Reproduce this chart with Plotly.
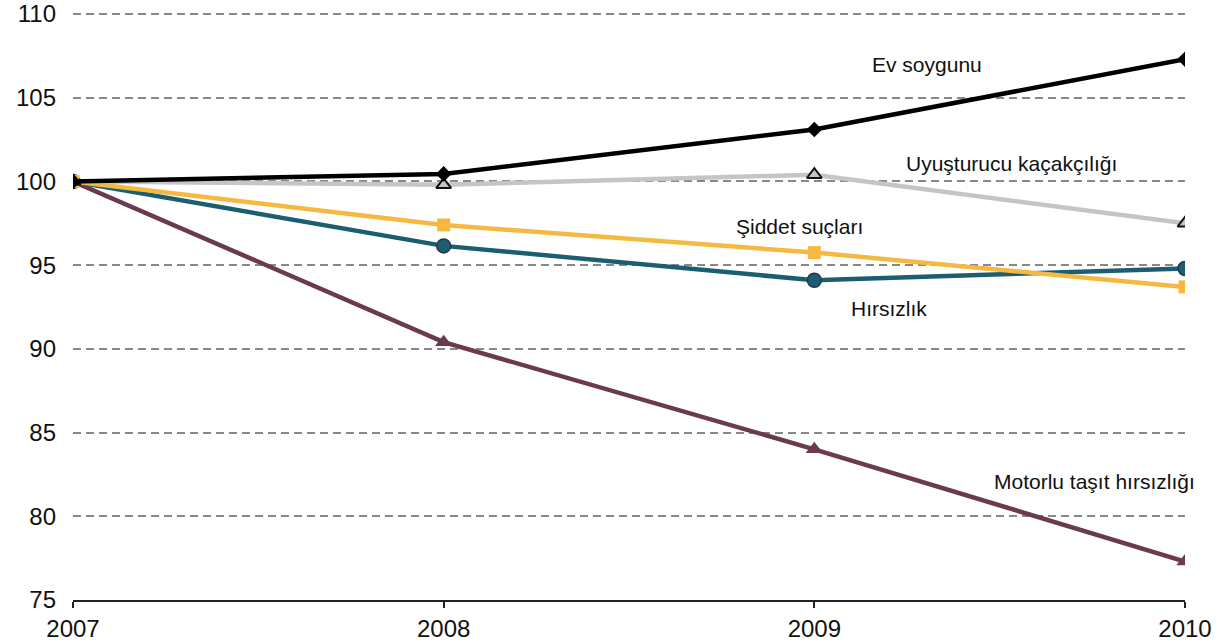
import plotly.graph_objects as go

years = [2007, 2008, 2009, 2010]
ev_soygunu = [100, 100.45, 103.1, 107.3]
uyusturucu = [100, 99.8, 100.4, 97.5]
siddet = [100, 97.4, 95.75, 93.7]
hirsizlik = [100, 96.15, 94.1, 94.8]
motorlu = [100, 90.4, 84.0, 77.3]
y_ticks = [75, 80, 85, 90, 95, 100, 105, 110]

labels = ["Ev soygunu", "Uyuşturucu kaçakçılığı", "Şiddet suçları", "Hırsızlık", "Motorlu taşıt hırsızlığı"]
label_pos = [(2009.304, 107.0), (2009.533, 101.1), (2008.961, 97.28), (2009.201, 92.44), (2009.757, 82.1)]

fig = go.Figure()
fig.add_trace(go.Scatter(x=years, y=motorlu, mode="lines+markers",
                         line=dict(color="#6b3a4e", width=4.5),
                         marker=dict(symbol="triangle-up", size=15, color="#6b3a4e")))
fig.add_trace(go.Scatter(x=years, y=hirsizlik, mode="lines+markers",
                         line=dict(color="#1b5e72", width=4.5),
                         marker=dict(symbol="circle", size=14, color="#1b5e72",
                                     line=dict(color="#2a3550", width=1.5))))
fig.add_trace(go.Scatter(x=years, y=siddet, mode="lines+markers",
                         line=dict(color="#f5b942", width=4.5),
                         marker=dict(symbol="square", size=13, color="#f5b942")))
fig.add_trace(go.Scatter(x=years, y=uyusturucu, mode="lines+markers",
                         line=dict(color="#c8c3c7", width=4.5),
                         marker=dict(symbol="triangle-up", size=13, color="#c8c3c7",
                                     line=dict(color="#111111", width=2))))
fig.add_trace(go.Scatter(x=years, y=ev_soygunu, mode="lines+markers",
                         line=dict(color="#000000", width=4.5),
                         marker=dict(symbol="diamond", size=12, color="#000000")))

for t, (x, y) in zip(labels, label_pos):
    fig.add_annotation(x=x, y=y, text=t, showarrow=False,
                       font=dict(family="Liberation Sans, Arial", size=21, color="#111111"))

fig.update_layout(
    width=1223, height=642,
    margin=dict(l=73, r=38, t=12, b=42, autoexpand=False),
    plot_bgcolor="white", paper_bgcolor="white",
    showlegend=False,
    font=dict(family="Liberation Sans, Arial", size=24, color="#111111"),
)
fig.update_xaxes(range=[2007, 2010], tickvals=years, ticktext=[str(y) for y in years],
                 showgrid=False, zeroline=False, showline=True, linecolor="#222222", linewidth=2,
                 ticks="outside", ticklen=6, tickwidth=2, tickcolor="#222222",
                 tickfont=dict(size=24), ticklabelstandoff=0, automargin=False)
fig.update_yaxes(range=[75, 110.12], tickvals=y_ticks, showgrid=True, gridcolor="#888888",
                 griddash="8px,5px", gridwidth=1.5, zeroline=False, showline=False,
                 tickfont=dict(size=24), ticks="", ticklabelstandoff=16, automargin=False)

fig.write_html("out.html", config={"displayModeBar": False},
               post_script="document.body.style.margin='0';document.body.style.overflow='hidden';")
